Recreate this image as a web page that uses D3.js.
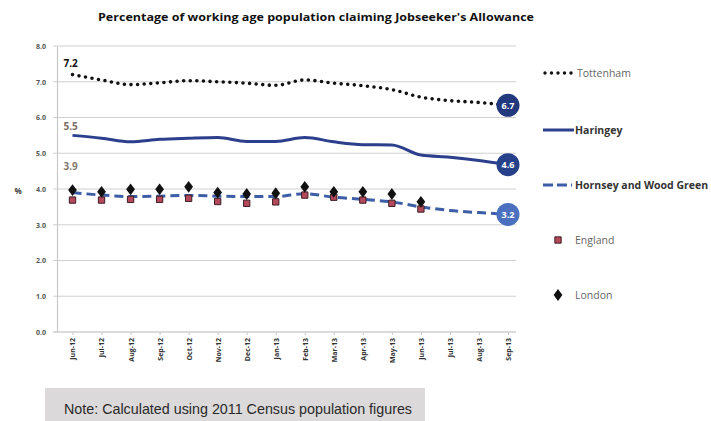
<!DOCTYPE html>
<html>
<head>
<meta charset="utf-8">
<script src="https://cdn.jsdelivr.net/npm/d3@7"></script>
<style>
  body { margin: 0; background: #fff; }
  svg { display: block; }
</style>
</head>
<body>
<svg width="711" height="421"></svg>
<script>
const months = ["Jun-12", "Jul-12", "Aug-12", "Sep-12", "Oct-12", "Nov-12", "Dec-12", "Jan-13",
    "Feb-13", "Mar-13", "Apr-13", "May-13", "Jun-13", "Jul-13", "Aug-13", "Sep-13"];
const yTicks = [0, 1, 2, 3, 4, 5, 6, 7, 8];

const tottenham = [7.2, 7.05, 6.92, 6.97, 7.03, 7.0, 6.96, 6.9, 7.05, 6.96, 6.89, 6.78, 6.57, 6.47, 6.42, 6.34];
const haringey = [5.5, 5.42, 5.32, 5.39, 5.42, 5.44, 5.33, 5.33, 5.44, 5.32, 5.24, 5.23, 4.95, 4.89, 4.8, 4.68];
const hornsey = [3.9, 3.83, 3.79, 3.8, 3.82, 3.8, 3.79, 3.79, 3.87, 3.77, 3.71, 3.64, 3.5, 3.4, 3.34, 3.29];
const england = [3.69, 3.69, 3.71, 3.71, 3.74, 3.65, 3.6, 3.64, 3.83, 3.77, 3.69, 3.6, 3.44];
const london = [3.97, 3.92, 3.99, 3.99, 4.06, 3.9, 3.86, 3.88, 4.06, 3.92, 3.92, 3.86, 3.64];

const startLabels = ["7.2", "5.5", "3.9"];
const endLabels = ["6.7", "4.6", "3.2"];

const svg = d3.select("svg");

const x = d3.scalePoint().domain(months).range([72.5, 508]);
const y = d3.scaleLinear().domain([0, 8]).range([332, 46]);

// title
svg.append("text")
    .attr("x", 316).attr("y", 21)
    .attr("text-anchor", "middle")
    .style("font-family", "'Open Sans', sans-serif")
    .style("font-weight", "bold")
    .style("font-size", "11px")
    .attr("textLength", 436)
    .attr("lengthAdjust", "spacingAndGlyphs")
    .attr("fill", "#111")
    .text("Percentage of working age population claiming Jobseeker's Allowance");

// gridlines
svg.append("g")
    .selectAll("line")
    .data(yTicks)
    .enter()
    .append("line")
    .attr("x1", 53).attr("x2", 516)
    .attr("y1", d => y(d)).attr("y2", d => y(d))
    .attr("stroke", d => d === 0 ? "#b8b8b8" : "#d2cfcf")
    .attr("stroke-width", 1.2);

// y axis
const axisY = d3.axisLeft(y).tickValues(yTicks).tickFormat(d3.format(".1f")).tickSize(0).tickPadding(11);
const gY = svg.append("g").attr("transform", "translate(57,0)").call(axisY);
gY.select(".domain").attr("stroke", "#c8c8c8").attr("stroke-width", 1.2);
gY.selectAll("text")
    .style("font-family", "'Open Sans', sans-serif")
    .style("font-weight", "bold")
    .style("font-size", "7px")
    .attr("fill", "#555");

svg.append("text")
    .attr("x", 18).attr("y", 194)
    .attr("text-anchor", "middle")
    .style("font-family", "'Open Sans', sans-serif")
    .style("font-weight", "bold")
    .style("font-size", "8px")
    .attr("fill", "#444")
    .text("%");

// x axis labels
const axisX = d3.axisBottom(x).tickSize(3).tickPadding(4);
const gX = svg.append("g").attr("transform", "translate(0,332)").call(axisX);
gX.select(".domain").remove();
gX.selectAll("line").attr("stroke", "#c8c8c8");
gX.selectAll("text")
    .style("font-family", "'Open Sans', sans-serif")
    .style("font-weight", "bold")
    .style("font-size", "7px")
    .attr("fill", "#333")
    .style("text-anchor", "end")
    .attr("transform", "rotate(-90)")
    .attr("x", -6)
    .attr("y", 0)
    .attr("dy", "0.35em");

// lines
const line = d3.line()
    .x((d, i) => x(months[i]))
    .y(d => y(d))
    .curve(d3.curveMonotoneX);

svg.append("path")
    .datum(haringey)
    .attr("fill", "none")
    .attr("stroke", "#2c3f8c")
    .attr("stroke-width", 3)
    .attr("d", line);

svg.append("path")
    .datum(hornsey)
    .attr("fill", "none")
    .attr("stroke", "#3d5ea6")
    .attr("stroke-width", 3)
    .attr("stroke-dasharray", "9 5")
    .attr("d", line);

svg.append("path")
    .datum(tottenham)
    .attr("fill", "none")
    .attr("stroke", "#111")
    .attr("stroke-width", 3.6)
    .attr("stroke-linecap", "round")
    .attr("stroke-dasharray", "0 6.6")
    .attr("d", line);

// England squares
svg.append("g")
    .selectAll("path")
    .data(england)
    .enter()
    .append("path")
    .attr("d", d3.symbol(d3.symbolSquare, 40))
    .attr("transform", (d, i) => `translate(${x(months[i])},${y(d)})`)
    .attr("fill", "#b5485a")
    .attr("stroke", "#3a1f25")
    .attr("stroke-width", 1);

// London diamonds
svg.append("g")
    .selectAll("path")
    .data(london)
    .enter()
    .append("path")
    .attr("d", d3.symbol(d3.symbolDiamond, 50))
    .attr("transform", (d, i) => `translate(${x(months[i])},${y(d)}) scale(1.15,0.9)`)
    .attr("fill", "#111");

// start labels
const firstVals = [tottenham[0], haringey[0], hornsey[0]];
const startColors = ["#111", "#7d6f63", "#85796f"];
const startDy = [-8, -5, -23];
svg.append("g")
    .selectAll("text")
    .data(startLabels)
    .enter()
    .append("text")
    .attr("x", x(months[0]) - 9)
    .attr("y", (d, i) => y(firstVals[i]) + startDy[i])
    .style("font-family", "'Open Sans', sans-serif")
    .style("font-weight", "bold")
    .style("font-size", "10px")
    .attr("fill", (d, i) => startColors[i])
    .text(d => d);

// end labels in circles
const lastVals = [tottenham[15], haringey[15], hornsey[15]];
const endColors = ["#23397d", "#27408a", "#4a70bf"];
const endG = svg.append("g")
    .selectAll("g")
    .data(endLabels)
    .enter()
    .append("g")
    .attr("transform", (d, i) => `translate(${x(months[15])},${y(lastVals[i])})`);
endG.append("circle")
    .attr("r", 11.5)
    .attr("fill", (d, i) => endColors[i]);
endG.append("text")
    .attr("text-anchor", "middle")
    .attr("dy", "0.35em")
    .style("font-family", "'Open Sans', sans-serif")
    .style("font-weight", "bold")
    .style("font-size", "9px")
    .attr("fill", "#fff")
    .text(d => d);

// legend
const legendNames = ["Tottenham", "Haringey", "Hornsey and Wood Green", "England", "London"];
const legendY = [73, 130, 185, 240, 295];
const lg = svg.append("g");
legendNames.forEach((name, i) => {
    const ly = legendY[i];
    if (i === 0) {
        lg.append("line").attr("x1", 545).attr("x2", 572).attr("y1", ly).attr("y2", ly)
            .attr("stroke", "#111").attr("stroke-width", 3.4)
            .attr("stroke-linecap", "round").attr("stroke-dasharray", "0 6.5");
    } else if (i === 1) {
        lg.append("line").attr("x1", 543).attr("x2", 574).attr("y1", ly).attr("y2", ly)
            .attr("stroke", "#2c3f8c").attr("stroke-width", 3);
    } else if (i === 2) {
        lg.append("line").attr("x1", 543).attr("x2", 572).attr("y1", ly).attr("y2", ly)
            .attr("stroke", "#3d5ea6").attr("stroke-width", 3).attr("stroke-dasharray", "10 4");
    } else if (i === 3) {
        lg.append("path").attr("d", d3.symbol(d3.symbolSquare, 40))
            .attr("transform", `translate(558,${ly})`)
            .attr("fill", "#b5485a").attr("stroke", "#3a1f25");
    } else {
        lg.append("path").attr("d", d3.symbol(d3.symbolDiamond, 50))
            .attr("transform", `translate(558,${ly}) scale(1.15,0.9)`)
            .attr("fill", "#111");
    }
    lg.append("text")
        .attr("x", i === 0 ? 577 : 575)
        .attr("y", ly)
        .attr("dy", "0.35em")
        .style("font-family", "'Open Sans', sans-serif")
        .style("font-size", "10.5px")
        .style("font-weight", i === 1 || i === 2 ? "bold" : "normal")
        .attr("fill", i === 1 || i === 2 ? "#333" : "#666")
        .text(name);
});

// note box
svg.append("rect")
    .attr("x", 45).attr("y", 388)
    .attr("width", 380).attr("height", 33)
    .attr("fill", "#dbd9d9");
svg.append("text")
    .attr("x", 64).attr("y", 414)
    .style("font-family", "'Liberation Sans', Arial, sans-serif")
    .style("font-size", "15.5px")
    .attr("fill", "#2a2a2a")
    .attr("textLength", 348)
    .attr("lengthAdjust", "spacingAndGlyphs")
    .text("Note: Calculated using 2011 Census population figures");
</script>
</body>
</html>
